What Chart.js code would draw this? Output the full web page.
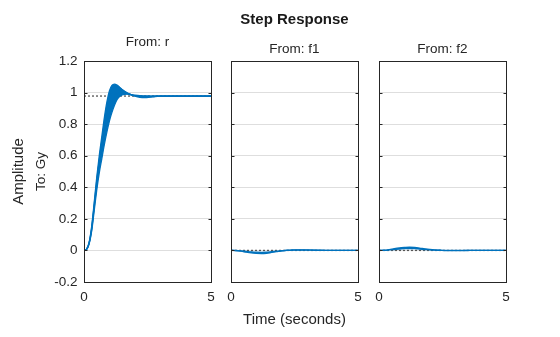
<!DOCTYPE html>
<html>
<head>
<meta charset="utf-8">
<script src="https://cdn.jsdelivr.net/npm/chart.js@4/dist/chart.umd.min.js"></script>
<style>
  html, body { margin: 0; padding: 0; background: #fff; }
  #wrap { position: relative; width: 560px; height: 337px; }
  #wrap canvas { position: absolute; left: 0; top: 0; }
</style>
</head>
<body>
<div id="wrap">
  <canvas id="cR" width="560" height="337"></canvas>
  <canvas id="cF1" width="560" height="337"></canvas>
  <canvas id="cF2" width="560" height="337"></canvas>
</div>
<script>
// ---- axis ticks ----
const yTicks = [-0.2, 0, 0.2, 0.4, 0.6, 0.8, 1, 1.2];
const yTickLabels = ['-0.2', '0', '0.2', '0.4', '0.6', '0.8', '1', '1.2'];
const xTicks = [0, 5];
const xTickLabels = ['0', '5'];

// ---- response to r (family of sampled plants) ----
const timeR = [0, 0.1, 0.2, 0.3, 0.4, 0.5, 0.6, 0.7, 0.8, 0.9, 1.0, 1.1, 1.2, 1.3, 1.4,
               1.5, 1.6, 1.7, 1.8, 1.9, 2.0, 2.2, 2.4, 2.6, 2.8, 3.0, 3.5, 4.0, 4.5, 5.0];
const rFast = [0, 0.008, 0.05, 0.15, 0.30, 0.46, 0.60, 0.72, 0.84, 0.94, 1.01, 1.045, 1.053, 1.047, 1.034,
               1.020, 1.008, 0.999, 0.991, 0.984, 0.978, 0.970, 0.968, 0.971, 0.975, 0.977, 0.978, 0.978, 0.978, 0.978];
const rMidA = [0, 0.007, 0.047, 0.14, 0.285, 0.44, 0.57, 0.69, 0.80, 0.89, 0.96, 1.01, 1.035, 1.038, 1.030,
               1.018, 1.006, 0.997, 0.990, 0.984, 0.980, 0.974, 0.972, 0.974, 0.976, 0.977, 0.978, 0.978, 0.978, 0.978];
const rMidB = [0, 0.007, 0.044, 0.13, 0.27, 0.41, 0.53, 0.64, 0.74, 0.82, 0.89, 0.94, 0.98, 1.0, 1.008,
               1.006, 1.0, 0.993, 0.987, 0.983, 0.980, 0.977, 0.976, 0.977, 0.978, 0.978, 0.978, 0.978, 0.978, 0.978];
const rSlow = [0, 0.006, 0.04, 0.12, 0.25, 0.38, 0.49, 0.58, 0.67, 0.75, 0.82, 0.875, 0.92, 0.955, 0.975,
               0.985, 0.989, 0.990, 0.988, 0.985, 0.983, 0.980, 0.979, 0.978, 0.978, 0.978, 0.978, 0.978, 0.978, 0.978];
const rFinal = 0.978;

// ---- responses to disturbances f1 and f2 ----
const timeF = [0, 0.2, 0.4, 0.6, 0.8, 1.0, 1.2, 1.4, 1.6, 1.8, 2.0, 2.2, 2.4, 2.7, 3.0, 3.3, 3.6, 4.0, 4.5, 5.0];
const f1Deep = [0, -0.001, -0.005, -0.011, -0.016, -0.019, -0.02, -0.018, -0.013, -0.008, -0.003, 0.001, 0.003, 0.004, 0.003, 0.002, 0.001, 0, 0, 0];
const f1Shallow = [0, -0.0005, -0.003, -0.006, -0.009, -0.011, -0.012, -0.011, -0.008, -0.005, -0.002, 0, 0.001, 0.002, 0.002, 0.001, 0.0005, 0, 0, 0];
const f1Final = 0;
const f2High = [0, 0.001, 0.005, 0.011, 0.016, 0.019, 0.021, 0.019, 0.015, 0.010, 0.006, 0.003, 0.001, -0.001, -0.001, -0.001, 0, 0, 0, 0];
const f2Low = [0, 0.0005, 0.003, 0.006, 0.009, 0.011, 0.012, 0.011, 0.009, 0.006, 0.004, 0.002, 0.001, 0, 0, 0, 0, 0, 0, 0];
const f2Final = 0;

const BLUE = '#0072BD';
const INK = '#262626';
Chart.defaults.font.family = "'Liberation Sans', Arial, Helvetica, sans-serif";
Chart.defaults.color = INK;

const pts = (t, v) => t.map((x, i) => ({ x: x, y: v[i] }));

function curve(t, v, extra) {
  return Object.assign({
    data: pts(t, v), borderColor: BLUE, backgroundColor: BLUE, borderWidth: 1.3,
    pointRadius: 0, fill: false, cubicInterpolationMode: 'monotone', order: 1
  }, extra || {});
}
function steady(value) {
  return {
    data: [{ x: 0, y: value }, { x: 5, y: value }], borderColor: '#555555', borderWidth: 1.3,
    borderDash: [2, 2], pointRadius: 0, fill: false, order: 5
  };
}

// axes box with inward tick marks on both vertical sides
const boxPlugin = {
  id: 'axesBox',
  afterDatasetsDraw(chart) {
    const { ctx, chartArea: a, scales } = chart;
    const l = Math.floor(a.left) + 0.5, r = Math.floor(a.right) + 0.5;
    const t = Math.floor(a.top) + 0.5, b = Math.floor(a.bottom) + 0.5;
    ctx.save();
    ctx.strokeStyle = INK;
    ctx.lineWidth = 1;
    ctx.beginPath();
    scales.y.ticks.forEach(tk => {
      const y = Math.round(scales.y.getPixelForValue(tk.value)) + 0.5;
      ctx.moveTo(l, y); ctx.lineTo(l + 3, y);
      ctx.moveTo(r, y); ctx.lineTo(r - 3, y);
    });
    ctx.stroke();
    ctx.strokeRect(l, t, r - l, b - t);
    ctx.restore();
  }
};

function panel(id, datasets, opt) {
  const showY = !!opt.yTitle;
  return new Chart(document.getElementById(id), {
    type: 'line',
    data: { datasets: datasets },
    plugins: [boxPlugin],
    options: {
      responsive: false, animation: false, devicePixelRatio: 1,
      layout: { padding: opt.padding },
      plugins: {
        legend: { display: false },
        tooltip: { enabled: false },
        title: opt.title,
        subtitle: opt.subtitle
      },
      scales: {
        x: {
          type: 'linear', min: 0, max: 5,
          afterBuildTicks: s => { s.ticks = xTicks.map(v => ({ value: v })); },
          afterFit: s => { s.height = 55; },
          grid: { display: false, drawTicks: false },
          border: { display: false },
          ticks: {
            font: { size: 13.5 }, color: INK, padding: 7.4, maxRotation: 0, autoSkip: false,
            callback: v => xTickLabels[xTicks.indexOf(v)]
          },
          title: opt.xTitle ? {
            display: true, text: opt.xTitle, font: { size: 15 }, color: INK,
            padding: { top: 0, bottom: 8 }
          } : { display: false }
        },
        y: {
          type: 'linear', min: -0.2, max: 1.2,
          afterBuildTicks: s => { s.ticks = yTicks.map(v => ({ value: v })); },
          afterFit: s => { s.width = showY ? 54 : 0; },
          grid: { color: '#dedede', lineWidth: 1, drawTicks: false },
          border: { display: false },
          ticks: {
            display: showY, font: { size: 13.5 }, color: INK, padding: 6.5,
            callback: v => yTickLabels[yTicks.indexOf(v)]
          },
          title: showY ? {
            display: true, text: opt.yTitle, font: { size: 13.5 }, color: INK,
            padding: { top: 2.9, bottom: 0 }
          } : { display: false }
        }
      }
    }
  });
}

// From: r
panel('cR', [
  curve(timeR, rFast, { order: 2 }),
  curve(timeR, rMidA),
  curve(timeR, rMidB),
  curve(timeR, rSlow, { fill: { target: 0 }, backgroundColor: BLUE }),
  steady(rFinal)
], {
  padding: { left: 0, top: 34.4, right: 349, bottom: 0 },
  yTitle: 'To: Gy',
  title: { display: true, text: 'Amplitude', position: 'left', fullSize: false,
           font: { size: 15, weight: 'normal' }, color: INK, padding: { top: 10, bottom: 2 } },
  subtitle: { display: true, text: 'From: r', position: 'top', fullSize: false,
              font: { size: 13.5 }, color: INK, padding: { top: 0, bottom: 10.4 } }
});

// From: f1
panel('cF1', [
  curve(timeF, f1Deep),
  curve(timeF, f1Shallow, { fill: { target: 0 }, backgroundColor: BLUE }),
  steady(f1Final)
], {
  padding: { left: 231, top: 11, right: 202, bottom: 0 },
  xTitle: 'Time (seconds)',
  title: { display: true, text: 'Step Response', position: 'top', fullSize: false,
           font: { size: 15, weight: 'bold' }, color: '#1a1a1a', padding: { top: 0, bottom: 0 } },
  subtitle: { display: true, text: 'From: f1', position: 'top', fullSize: false,
              font: { size: 13.5 }, color: INK, padding: { top: 11.9, bottom: 3.9 } }
});

// From: f2
panel('cF2', [
  curve(timeF, f2High),
  curve(timeF, f2Low, { fill: { target: 0 }, backgroundColor: BLUE }),
  steady(f2Final)
], {
  padding: { left: 379, top: 40.9, right: 54, bottom: 0 },
  title: { display: false },
  subtitle: { display: true, text: 'From: f2', position: 'top', fullSize: false,
              font: { size: 13.5 }, color: INK, padding: { top: 0, bottom: 3.9 } }
});
</script>
</body>
</html>
